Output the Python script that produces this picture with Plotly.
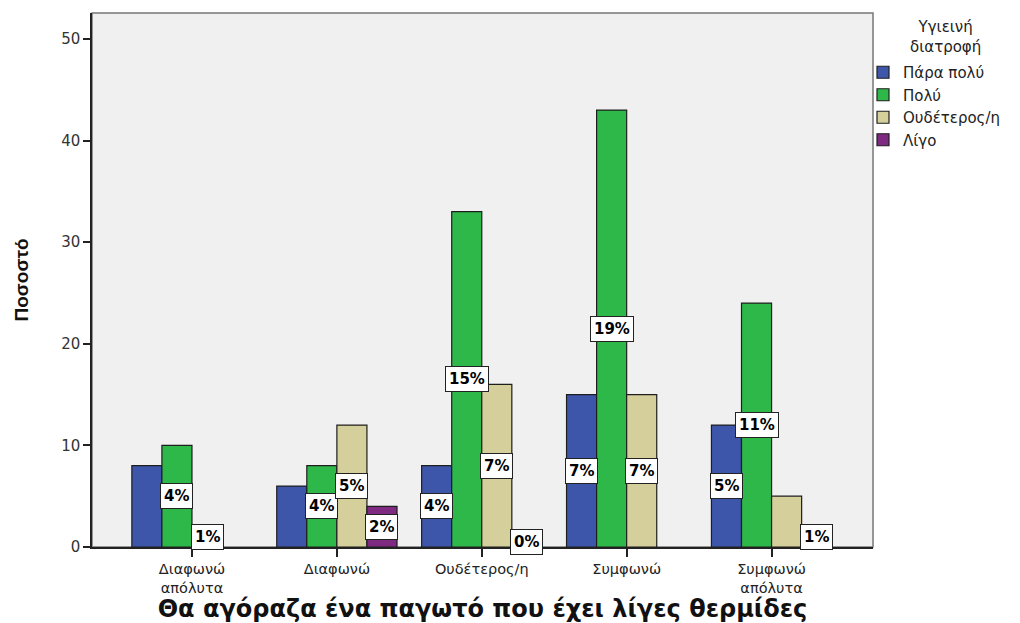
import plotly.graph_objects as go

# Categories (answers to the statement on the x axis)
categories = ["Διαφωνώ απόλυτα", "Διαφωνώ", "Ουδέτερος/η", "Συμφωνώ", "Συμφωνώ απόλυτα"]
tick_text = ["Διαφωνώ<br>απόλυτα", "Διαφωνώ", "Ουδέτερος/η", "Συμφωνώ", "Συμφωνώ<br>απόλυτα"]

# Series: answers to "Υγιεινή διατροφή"
legend_title = "Υγιεινή<br>διατροφή"
series_names = ["Πάρα πολύ", "Πολύ", "Ουδέτερος/η", "Λίγο"]
para_poly = [8, 6, 8, 15, 12]
poly = [10, 8, 33, 43, 24]
oudeteros = [2, 12, 16, 15, 5]
ligo = [None, 4, 1, None, 2]

# Percentage labels printed on the bars (None = no label)
para_poly_lbl = [None, None, "4%", "7%", "5%"]
poly_lbl = ["4%", "4%", "15%", "19%", "11%"]
oudeteros_lbl = ["1%", "5%", "7%", "7%", None]
ligo_lbl = [None, "2%", "0%", None, "1%"]

y_ticks = [0, 10, 20, 30, 40, 50]

colors = ["#3d56aa", "#2fb84a", "#d5cf9b", "#7d2a80"]
values = [para_poly, poly, oudeteros, ligo]
labels = [para_poly_lbl, poly_lbl, oudeteros_lbl, ligo_lbl]

BARGAP = 0.17
ARIAL = "Arial, Liberation Sans, sans-serif"
WIDE = "DejaVu Sans, Verdana, sans-serif"

W, H = 1020, 623
ML, MR, MT, MB = 92, 147, 13, 76
PW, PH = W - ML - MR, H - MT - MB

fig = go.Figure()
for name, vals, col in zip(series_names, values, colors):
    fig.add_trace(go.Bar(
        name=name, x=categories, y=vals,
        marker=dict(color=col, line=dict(color="#1e1e1e", width=1.2)),
    ))

# Labels sit at the middle of each bar, in white boxes
n = len(series_names)
slot = (1 - BARGAP) / n
annotations = []
for s, (vals, lbls) in enumerate(zip(values, labels)):
    for i, (v, t) in enumerate(zip(vals, lbls)):
        if t is None:
            continue
        annotations.append(dict(
            x=i + (s - (n - 1) / 2) * slot, y=(v or 0) / 2,
            xref="x", yref="y", text="<b>%s</b>" % t, showarrow=False,
            font=dict(family=WIDE, size=15, color="black"),
            bgcolor="white", bordercolor="#222", borderwidth=1, borderpad=3,
            xanchor="center", yanchor="middle",
        ))

# Legend heading, centred above the legend entries
annotations.append(dict(
    x=(945 - ML) / PW, y=1 - (16 - MT) / PH,
    xref="paper", yref="paper", xanchor="center", yanchor="top",
    text=legend_title, showarrow=False, align="center",
    font=dict(family=WIDE, size=15, color="#222"),
))

fig.update_layout(
    width=W, height=H,
    margin=dict(l=ML, r=MR, t=MT, b=MB, autoexpand=False),
    paper_bgcolor="white", plot_bgcolor="#f0f0f0",
    barmode="group", bargap=BARGAP, bargroupgap=0,
    font=dict(family=ARIAL, size=13, color="#222"),
    annotations=annotations,
    legend=dict(
        x=(863 - ML) / PW, y=(H - MB - 56) / PH,
        xanchor="left", yanchor="top",
        font=dict(family=WIDE, size=15, color="#222"),
        bgcolor="rgba(0,0,0,0)", itemwidth=30, tracegroupgap=0,
    ),
    shapes=[dict(type="rect", xref="x domain", yref="y domain",
                 x0=0, x1=1, y0=0, y1=1, line=dict(color="#777", width=1.5),
                 layer="below")],
)

fig.update_xaxes(
    type="category", categoryorder="array", categoryarray=categories,
    tickvals=categories, ticktext=tick_text, automargin=False,
    range=[-0.69, 4.70], showgrid=False, zeroline=False,
    showline=True, linecolor="#222", linewidth=1.5,
    ticks="outside", ticklen=8, tickwidth=1.5, tickcolor="#222",
    tickfont=dict(family=WIDE, size=14.5, color="#222"),
    title=dict(text="<b>Θα αγόραζα ένα παγωτό που έχει λίγες θερμίδες</b>",
               font=dict(family=WIDE, size=24, color="#111"), standoff=3),
)
fig.update_yaxes(
    range=[0, 52.55], tickvals=y_ticks, automargin=False,
    showgrid=False, zeroline=False,
    showline=True, linecolor="#222", linewidth=1.5,
    ticks="outside", ticklen=7, tickwidth=1.5, tickcolor="#222",
    tickfont=dict(family=WIDE, size=15, color="#333"),
    title=dict(text="<b>Ποσοστό</b>", font=dict(family=ARIAL, size=19, color="#111"),
               standoff=28),
)

fig.write_html("out.html")
